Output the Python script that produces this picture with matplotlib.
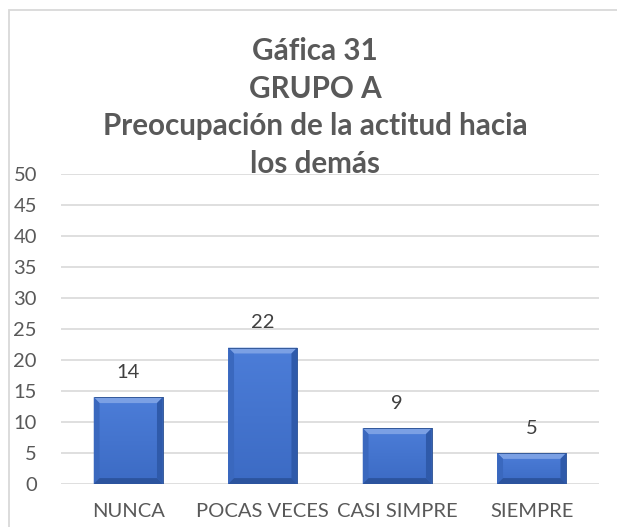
import matplotlib
matplotlib.use('Agg')
import matplotlib.pyplot as plt
import numpy as np
from matplotlib.patches import Rectangle, Polygon

categories = ['NUNCA', 'POCAS VECES', 'CASI SIMPRE', 'SIEMPRE']
values = [14, 22, 9, 5]
yticks = [0, 5, 10, 15, 20, 25, 30, 35, 40, 45, 50]
title_lines = ['Gáfica 31', 'GRUPO A', 'Preocupación de la actitud hacia', 'los demás']

plt.rcParams['font.family'] = ['Lato', 'DejaVu Sans']

W, H = 617, 527
fig = plt.figure(figsize=(W / 100, H / 100), dpi=100)
renderer = fig.canvas.get_renderer()


def fit_size(text, width_px, **kw):
    # font size (pt) that gives the text the wanted width in pixels
    t = fig.text(0, 0, text, fontsize=10, **kw)
    w = t.get_window_extent(renderer).width
    t.remove()
    return 10 * width_px / w


label_size = fit_size('NUNCA', 72)
title_size = fit_size(title_lines[2], 427, fontweight='bold')

# outer chart border (only left and top edges fall inside the crop)
fig.patches.append(Rectangle((9 / W, -0.05), 1.0, (H - 10) / H + 0.05,
                             transform=fig.transFigure, fill=False,
                             edgecolor='#D9D9D9', linewidth=1.3))

ax = fig.add_axes([61 / W, 1 - 484 / H, (599 - 61) / W, (484 - 174) / H])
x = np.arange(len(categories))
bars = ax.bar(x, values, width=0.513, color='#4474CC', edgecolor='#2A4F8F',
              linewidth=0.6, zorder=3)

# bevelled look, like the office chart style
grad = np.linspace(0, 1, 64).reshape(-1, 1)
cmap = matplotlib.colors.LinearSegmentedColormap.from_list('f', ['#3C6BC4', '#4C7DD8'])
dx, dy = 0.043, 0.95
for b in bars:
    x0, w, h = b.get_x(), b.get_width(), b.get_height()
    x1 = x0 + w
    im = ax.imshow(grad, cmap=cmap, extent=(x0, x1, 0, h), origin='lower',
                   aspect='auto', zorder=3.5)
    im.set_clip_path(b)
    ax.add_patch(Polygon([(x0, h), (x1, h), (x1 - dx, h - dy), (x0 + dx, h - dy)],
                         color='#7BA0E4', zorder=4, linewidth=0))
    ax.add_patch(Polygon([(x0, 0), (x0, h), (x0 + dx, h - dy), (x0 + dx, dy)],
                         color='#3A68BE', zorder=4, linewidth=0))
    ax.add_patch(Polygon([(x1, 0), (x1, h), (x1 - dx, h - dy), (x1 - dx, dy)],
                         color='#2F5AAA', zorder=4, linewidth=0))
    ax.add_patch(Polygon([(x0, 0), (x1, 0), (x1 - dx, dy), (x0 + dx, dy)],
                         color='#2C549E', zorder=4, linewidth=0))
    ax.add_patch(Rectangle((x0, h), w, 0.001, fill=False, edgecolor='#2A4F8F',
                           linewidth=0.6, zorder=4.5))

ax.set_xlim(-0.5, len(categories) - 0.5)
ax.set_ylim(0, 50)

for xi, v in zip(x, values):
    ax.text(xi, v + 4.0, str(v), ha='center', va='center', fontsize=label_size,
            color='#404040')

ax.set_yticks(yticks)
ax.set_xticks(x)
ax.set_xticklabels(categories)
ax.grid(axis='y', color='#D9D9D9', linewidth=1.2, zorder=0)
ax.set_axisbelow(True)
for s in ax.spines.values():
    s.set_visible(False)
ax.tick_params(axis='both', length=0, labelsize=label_size, colors='#595959')
ax.tick_params(axis='y', pad=17.3)
ax.tick_params(axis='x', pad=14)

# title, one line at a time on measured baselines
for i, line in enumerate(title_lines):
    yb = 60 + 37.5 * i
    fig.text(315 / W, 1 - yb / H, line, ha='center', va='baseline',
             fontsize=title_size, fontweight='bold', color='#595959')

fig.savefig('out.png', dpi=100)
